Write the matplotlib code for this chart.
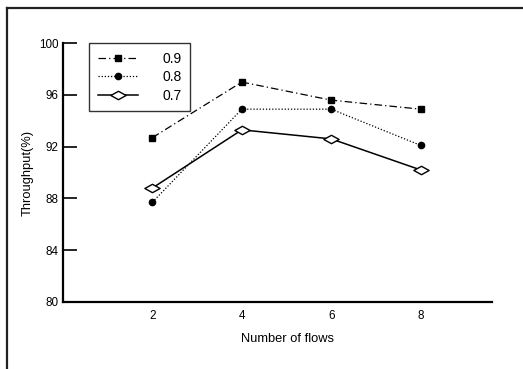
import matplotlib
matplotlib.use('Agg')
import matplotlib.pyplot as plt
from matplotlib.lines import Line2D
from matplotlib.path import Path

plt.rcParams['font.family'] = ['Liberation Sans', 'DejaVu Sans']

flows = [2, 4, 6, 8]
load_09 = [92.7, 97.0, 95.6, 94.9]
load_08 = [87.7, 94.9, 94.9, 92.1]
load_07 = [88.8, 93.3, 92.6, 90.2]
labels = ['0.9', '0.8', '0.7']
y_ticks = [80, 84, 88, 92, 96, 100]

# wide, flat diamond like the scanned marker
diamond = Path([(-1.0, 0.0), (0.0, 0.55), (1.0, 0.0), (0.0, -0.55), (-1.0, 0.0)],
               [Path.MOVETO, Path.LINETO, Path.LINETO, Path.LINETO, Path.CLOSEPOLY])

fig = plt.figure(figsize=(5.23, 3.69), dpi=100)
ax = fig.add_axes([0.1205, 0.1824, 0.8205, 0.7003])

ax.plot(flows, load_09, color='black', lw=0.9, ls=(0, (6, 2.5, 1, 2.5)),
        marker='s', ms=4.5, mfc='black', mec='black', label=labels[0])
ax.plot(flows, load_08, color='black', lw=0.9, ls=(0, (1, 1.5)),
        marker='o', ms=4.5, mfc='black', mec='black', label=labels[1])
ax.plot(flows, load_07, color='black', lw=1.1, ls='-',
        marker=diamond, ms=11, mfc='white', mec='black', mew=1.0, label=labels[2])

ax.set_xlim(0, 9.6)
ax.set_ylim(80, 100)
ax.set_xticks(flows)
ax.set_yticks(y_ticks)
ax.tick_params(axis='y', direction='in', length=10, width=1.2, labelsize=8.4, pad=3)
ax.tick_params(axis='x', length=0, labelsize=8.4, pad=6)

for side in ['top', 'right']:
    ax.spines[side].set_visible(False)
for side in ['left', 'bottom']:
    ax.spines[side].set_linewidth(1.6)

ax.set_xlabel('Number of flows', fontsize=9.3)
ax.xaxis.set_label_coords(0.522, -0.12)
ax.set_ylabel('Throughput(%)', fontsize=9.3)
ax.yaxis.set_label_coords(-0.068, 0.5)

leg = ax.legend(loc='upper left', bbox_to_anchor=(0.061, 1.0), fontsize=10,
                frameon=True, fancybox=False, edgecolor='black', handlelength=2.9,
                handletextpad=1.8, labelspacing=0.32, borderpad=0.6,
                borderaxespad=0)
leg.get_frame().set_linewidth(1.0)

# scanned page frame
fig.add_artist(Line2D([7 / 523, 7 / 523], [0, 1 - 8 / 369], color='#222222', lw=1.6))
fig.add_artist(Line2D([7 / 523, 1], [1 - 8 / 369, 1 - 8 / 369], color='#222222', lw=1.6))

fig.savefig('out.png', dpi=100)
